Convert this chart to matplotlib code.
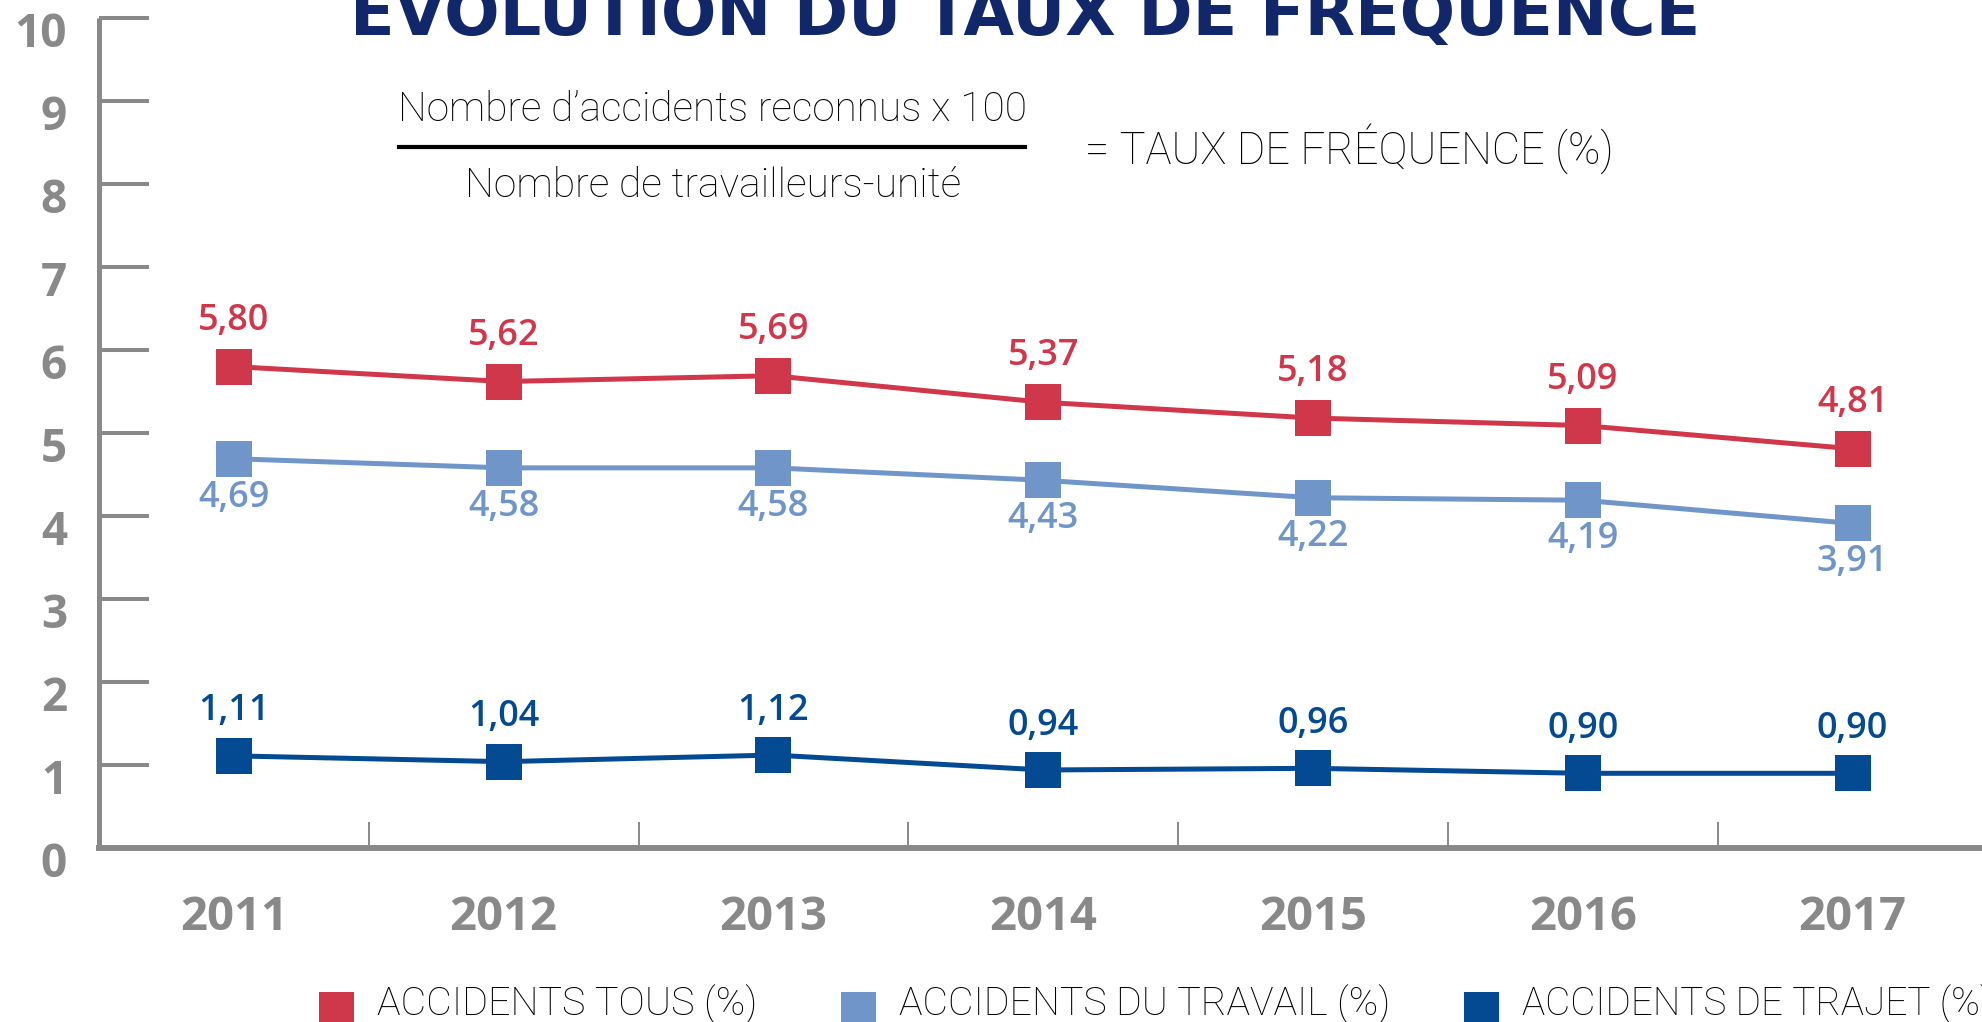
import matplotlib
matplotlib.use("Agg")
import matplotlib.pyplot as plt
from matplotlib.patches import Rectangle
from matplotlib.transforms import ScaledTranslation

years = ["2011", "2012", "2013", "2014", "2015", "2016", "2017"]
tous = [5.80, 5.62, 5.69, 5.37, 5.18, 5.09, 4.81]
travail = [4.69, 4.58, 4.58, 4.43, 4.22, 4.19, 3.91]
trajet = [1.11, 1.04, 1.12, 0.94, 0.96, 0.90, 0.90]
series_names = ["ACCIDENTS TOUS (%)", "ACCIDENTS DU TRAVAIL (%)", "ACCIDENTS DE TRAJET (%)"]
title = "ÉVOLUTION DU TAUX DE FRÉQUENCE"
num_line = "Nombre d\u2019accidents reconnus x 100"
den_line = "Nombre de travailleurs-unité"
eq_text = "= TAUX DE FRÉQUENCE (%)"

RED = "#D0374A"
LBLUE = "#7095C8"
DBLUE = "#034A92"
GRAY = "#898989"
NAVY = "#12276A"

W, H = 1982, 1022
fig = plt.figure(figsize=(W / 100, H / 100), dpi=100)

def fx(px):
    return px / W

def fy(py):
    return 1 - py / H

ax = fig.add_axes([fx(99), fy(848), 1 - fx(99), fy(18) - fy(848)])
x = list(range(len(years)))
ax.set_xlim(-0.5, 6.48)
ax.set_ylim(0, 10)

for s in ["top", "right"]:
    ax.spines[s].set_visible(False)
ax.spines["left"].set_color(GRAY)
ax.spines["left"].set_linewidth(3.6)
ax.spines["bottom"].set_color(GRAY)
ax.spines["bottom"].set_linewidth(4.3)
ax.spines["left"].set_capstyle("butt")

num_font = ["Open Sans", "DejaVu Sans"]

ax.set_yticks(range(0, 11))
ax.set_yticklabels([str(v) for v in range(0, 11)], fontfamily=num_font,
                   fontweight="bold", fontsize=33, color=GRAY)
ax.tick_params(axis="y", direction="in", length=36, width=2.9, color=GRAY, pad=23)
off = ScaledTranslation(0, -11 / 100, fig.dpi_scale_trans)
for lab in ax.get_yticklabels():
    lab.set_transform(lab.get_transform() + off)

ax.set_xticks(x)
ax.set_xticklabels(years, fontfamily=num_font, fontweight="bold", fontsize=34, color=GRAY)
ax.set_xticks([i + 0.5 for i in range(6)], minor=True)
ax.tick_params(axis="x", which="major", length=0, pad=33)
ax.tick_params(axis="x", which="minor", direction="in", length=18.7, width=1.4, color=GRAY)

def fmt(v):
    return f"{v:.2f}".replace(".", ",")

for data, col, dy in [(tous, RED, 33), (travail, LBLUE, -28), (trajet, DBLUE, 32)]:
    ax.plot(x, data, color=col, lw=3.6, marker="s", markersize=26,
            markeredgewidth=0, zorder=3, clip_on=False)
    for xi, v in zip(x, data):
        ax.annotate(fmt(v), (xi, v), xytext=(0, dy), textcoords="offset points",
                    ha="center", va="center", fontsize=26, color=col,
                    fontfamily=num_font, fontweight="semibold")

renderer = fig.canvas.get_renderer()

def fit(t, target_w):
    w = t.get_window_extent(renderer).width
    t.set_fontsize(t.get_fontsize() * target_w / w)

# title (partially clipped at top)
t = fig.text(fx(1025), fy(35), title, ha="center", va="baseline", color=NAVY,
             fontsize=40, fontweight="bold", fontfamily=["DejaVu Sans"])
fit(t, 1350)

light = ["Roboto", "DejaVu Sans"]
t1 = fig.text(fx(713), fy(110), num_line, ha="center", va="center",
              fontsize=22, fontfamily=light, fontweight="light", color="black")
fit(t1, 627)
fig.add_artist(plt.Line2D([fx(399), fx(1025)], [fy(147), fy(147)], color="black", lw=3))
t2 = fig.text(fx(713), fy(186), den_line, ha="center", va="center",
              fontsize=22, fontfamily=light, fontweight="light", color="black")
fit(t2, 495)
t3 = fig.text(fx(1085), fy(149), eq_text, ha="left", va="center",
              fontsize=22, fontfamily=light, fontweight="light", color="black")
fit(t3, 529)

# legend
leg = [(RED, 319, 377, 379), (LBLUE, 841, 899, 491), (DBLUE, 1464, 1522, 470)]
for (col, sx, tx, tw), name in zip(leg, series_names):
    fig.add_artist(Rectangle((fx(sx), fy(1027)), fx(35), fy(992) - fy(1027),
                             transform=fig.transFigure, color=col, lw=0))
    tt = fig.text(fx(tx), fy(1004), name, ha="left", va="center", fontsize=22,
                  fontfamily=light, fontweight="light", color="black")
    fit(tt, tw)

fig.savefig("out.png", dpi=100)
